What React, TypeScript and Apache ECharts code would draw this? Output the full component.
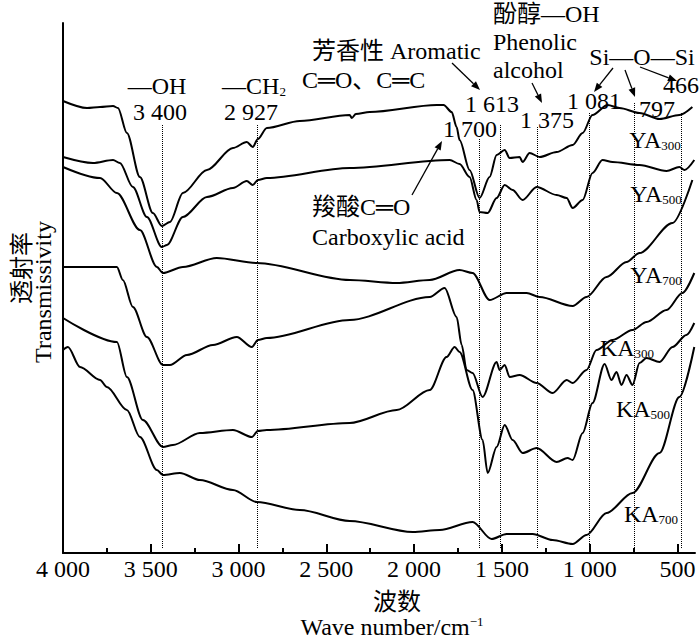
import React, { useEffect, useRef } from "react";
import * as echarts from "echarts";

// 红外光谱数据 [波数 cm-1, 透射率(任意单位)]
const ya300: [number, number][] = [
  [4000, 452], [3863, 445], [3789, 446], [3715, 447], [3687, 445], [3636, 420],
  [3562, 376], [3488, 340], [3437, 327], [3391, 331], [3317, 360], [3180, 383],
  [3032, 405], [2953, 411], [2919, 406], [2890, 414], [2839, 425], [2651, 432],
  [2367, 438], [2355, 435], [2332, 439], [2253, 441], [1871, 448], [1832, 448],
  [1786, 441], [1758, 426], [1741, 413], [1684, 383], [1627, 355], [1570, 376],
  [1530, 398], [1484, 403], [1456, 395], [1399, 396], [1382, 391], [1342, 400],
  [1285, 396], [1188, 401], [1097, 408], [1040, 420], [984, 438], [898, 448],
  [830, 445], [716, 440], [602, 434], [489, 438], [415, 446],
];

const ya500: [number, number][] = [
  [4000, 396], [3829, 390], [3715, 393], [3676, 390], [3602, 366], [3522, 336],
  [3437, 306], [3408, 308], [3317, 336], [3180, 356], [3032, 365], [2953, 372],
  [2919, 368], [2890, 373], [2839, 375], [2367, 385], [1797, 393], [1741, 389],
  [1684, 376], [1644, 353], [1627, 341], [1581, 340], [1530, 355], [1484, 368],
  [1439, 363], [1382, 353], [1302, 366], [1188, 358], [1131, 355], [1097, 345],
  [1040, 353], [984, 380], [927, 393], [870, 391], [716, 388], [562, 382],
  [489, 386], [460, 383], [404, 393],
];

const ya700: [number, number][] = [
  [4000, 386], [3789, 375], [3693, 360], [3562, 323], [3465, 286], [3431, 280],
  [3317, 286], [3124, 295], [2896, 290], [2367, 273], [2099, 270], [1911, 273],
  [1741, 283], [1667, 280], [1570, 253], [1473, 260], [1359, 260], [1285, 256],
  [1097, 247], [1018, 256], [904, 276], [790, 291], [716, 300], [528, 330],
  [415, 373],
];

const ka300: [number, number][] = [
  [4000, 286], [3693, 286], [3659, 273], [3602, 246], [3522, 216], [3431, 188],
  [3391, 188], [3294, 198], [3146, 208], [3010, 216], [2924, 206], [2890, 213],
  [2839, 215], [2367, 233], [1911, 256], [1826, 265], [1758, 236], [1729, 208],
  [1701, 183], [1667, 180], [1610, 156], [1530, 191], [1513, 183], [1484, 188],
  [1456, 176], [1399, 178], [1302, 170], [1211, 160], [1131, 173], [1097, 170],
  [1018, 183], [961, 203], [870, 213], [756, 223], [676, 231], [562, 243],
  [472, 260], [404, 280],
];

const ka500: [number, number][] = [
  [4000, 235], [3693, 211], [3636, 176], [3545, 133], [3431, 106], [3374, 108],
  [3220, 120], [3032, 123], [2924, 116], [2890, 122], [2839, 123], [2367, 130],
  [2099, 143], [1911, 163], [1815, 196], [1769, 206], [1741, 201], [1667, 163],
  [1610, 113], [1581, 80], [1530, 106], [1484, 128], [1439, 113], [1382, 100],
  [1302, 105], [1188, 91], [1126, 95], [1097, 93], [1040, 120], [984, 150],
  [915, 189], [876, 173], [847, 181], [819, 168], [790, 178], [756, 168],
  [716, 190], [676, 195], [602, 191], [528, 206], [449, 218], [404, 230],
];

const ka700: [number, number][] = [
  [4000, 203], [3972, 206], [3903, 186], [3789, 173], [3750, 166], [3636, 143],
  [3562, 116], [3465, 83], [3431, 78], [3334, 80], [3220, 73], [3032, 63],
  [2896, 51], [2651, 43], [2367, 32], [2008, 21], [1854, 23], [1667, 31],
  [1559, 14], [1473, 19], [1325, 19], [1211, 13], [1097, 9], [1018, 18],
  [904, 40], [756, 60], [602, 100], [489, 156], [404, 206],
];

const majorTicks = [4000, 3500, 3000, 2500, 2000, 1500, 1000, 500];
const minorTicks = [3750, 3250, 2750, 2250, 1750, 1250, 750];

// 虚线所在位置及顶端高度
const guideLines = [3437, 2896, 1627, 1507, 1297, 1001, 744, 477];
const guideTops = [428, 428, 415, 428, 426, 441, 450, 440];

const FONT = "'Liberation Serif', 'Times New Roman', 'Noto Sans CJK SC', serif";

const fmtWave = (v: number) =>
  v >= 1000 ? `${Math.floor(v / 1000)} ${String(v % 1000).padStart(3, "0")}` : String(v);

function txt(text: string, x: number, y: number, align = "center", extra: any = {}) {
  return {
    type: "text",
    x,
    y,
    silent: true,
    ...extra,
    style: {
      text,
      fill: "#000",
      fontSize: 24,
      fontFamily: FONT,
      align,
      verticalAlign: "middle",
      textAlign: align,
      textVerticalAlign: "middle",
      ...(extra.style || {}),
    },
  };
}

function subLabel(main: string, sub: string, x: number, y: number) {
  return txt(`{m|${main}}{s|${sub}}`, x, y, "center", {
    style: {
      rich: {
        m: { fontSize: 24, fontFamily: FONT, fill: "#000", lineHeight: 24 },
        s: { fontSize: 13, fontFamily: FONT, fill: "#000", verticalAlign: "bottom", lineHeight: 24 },
      },
    },
  });
}

function arrow(x1: number, y1: number, x2: number, y2: number) {
  const a = Math.atan2(y2 - y1, x2 - x1);
  const L = 9;
  const W = 3.5;
  const bx = x2 - L * Math.cos(a);
  const by = y2 - L * Math.sin(a);
  const px = -Math.sin(a) * W;
  const py = Math.cos(a) * W;
  return [
    { type: "line", silent: true, shape: { x1, y1, x2: bx, y2: by }, style: { stroke: "#000", lineWidth: 1.3 } },
    {
      type: "polygon",
      silent: true,
      shape: { points: [[x2, y2], [bx + px, by + py], [bx - px, by - py]] },
      style: { fill: "#000" },
    },
  ];
}

const App: React.FC = () => {
  const chartRef = useRef<HTMLDivElement>(null);

  useEffect(() => {
    const chart = echarts.init(chartRef.current, null, { renderer: "svg" });

    const curve = (name: string, data: [number, number][], extra: any = {}) => ({
      name,
      type: "line",
      data,
      symbol: "none",
      showSymbol: false,
      smooth: 0.3,
      smoothMonotone: "x",
      lineStyle: { color: "#000", width: 2 },
      ...extra,
    });

    const option: any = {
      animation: false,
      backgroundColor: "#fff",
      grid: { left: 63, right: 5, top: 23, bottom: 87, outerBoundsMode: "none" },
      xAxis: [
        {
          type: "value",
          min: 400,
          max: 4000,
          inverse: true,
          position: "bottom",
          axisLine: { show: true, onZero: false, lineStyle: { color: "#000", width: 2 } },
          axisTick: { show: true, inside: true, length: 9, customValues: majorTicks, lineStyle: { color: "#000", width: 2 } },
          axisLabel: { customValues: majorTicks, formatter: fmtWave, color: "#000", fontSize: 24, fontFamily: FONT, margin: 4 },
          splitLine: { show: false },
        },
        {
          type: "value",
          min: 400,
          max: 4000,
          inverse: true,
          position: "bottom",
          axisLine: { show: false, onZero: false },
          axisTick: { show: true, inside: true, length: 5, customValues: minorTicks, lineStyle: { color: "#000", width: 2 } },
          axisLabel: { show: false },
          splitLine: { show: false },
        },
      ],
      yAxis: {
        type: "value",
        min: 0,
        max: 530,
        axisLine: { show: true, lineStyle: { color: "#000", width: 2 } },
        axisTick: { show: false },
        axisLabel: { show: false },
        splitLine: { show: false },
      },
      series: [
        curve("YA300", ya300, {
          markLine: {
            silent: true,
            symbol: ["none", "none"],
            label: { show: false },
            lineStyle: { color: "#000", width: 1, type: "dotted" },
            data: guideLines.map((w, i) => [{ coord: [w, 5] }, { coord: [w, guideTops[i]] }]),
          },
        }),
        curve("YA500", ya500),
        curve("YA700", ya700),
        curve("KA300", ka300),
        curve("KA500", ka500),
        curve("KA700", ka700),
      ],
      graphic: [
        // 坐标轴名称
        txt("透射率", 22, 268, "center", { rotation: Math.PI / 2 }),
        txt("Transmissivity", 43, 292, "center", { rotation: Math.PI / 2 }),
        txt("波数", 397, 602),
        txt("{m|Wave number/cm}{s|−1}", 392, 627, "center", {
          style: {
            rich: {
              m: { fontSize: 24, fontFamily: FONT, fill: "#000", lineHeight: 24 },
              s: { fontSize: 13, fontFamily: FONT, fill: "#000", verticalAlign: "top", lineHeight: 24 },
            },
          },
        }),
        // 官能团标注
        txt("—OH", 157, 86),
        txt("3 400", 160, 112),
        subLabel("—CH", "2", 254, 86),
        txt("2 927", 251, 112),
        txt("芳香性 Aromatic", 312, 51, "left"),
        txt("C═O、C═C", 302, 80, "left"),
        txt("1 613", 492, 104),
        txt("1 700", 470, 129),
        txt("羧酸C═O", 312, 207, "left"),
        txt("Carboxylic acid", 312, 237, "left"),
        txt("酚醇—OH", 493, 14, "left"),
        txt("Phenolic", 493, 42, "left"),
        txt("alcohol", 493, 70, "left"),
        txt("1 375", 547, 120),
        txt("Si—O—Si", 642, 57),
        txt("1 081", 594, 101),
        txt("797", 657, 109),
        txt("466", 699, 85, "right"),
        ...arrow(452, 63, 480, 90),
        ...arrow(532, 83, 542, 103),
        ...arrow(412, 195, 442, 141),
        ...arrow(613, 68, 594, 92),
        ...arrow(625, 70, 635, 97),
        ...arrow(640, 67, 677, 81),
        // 曲线名称
        subLabel("YA", "300", 655, 140),
        subLabel("YA", "500", 656, 194),
        subLabel("YA", "700", 656, 275),
        subLabel("KA", "300", 627, 348),
        subLabel("KA", "500", 643, 409),
        subLabel("KA", "700", 651, 514),
      ],
    };

    chart.setOption(option);
    return () => {
      chart.dispose();
    };
  }, []);

  return (
    <div
      ref={chartRef}
      style={{ position: "absolute", left: 0, top: 0, width: 700, height: 640, background: "#fff" }}
    />
  );
};

export default App;
